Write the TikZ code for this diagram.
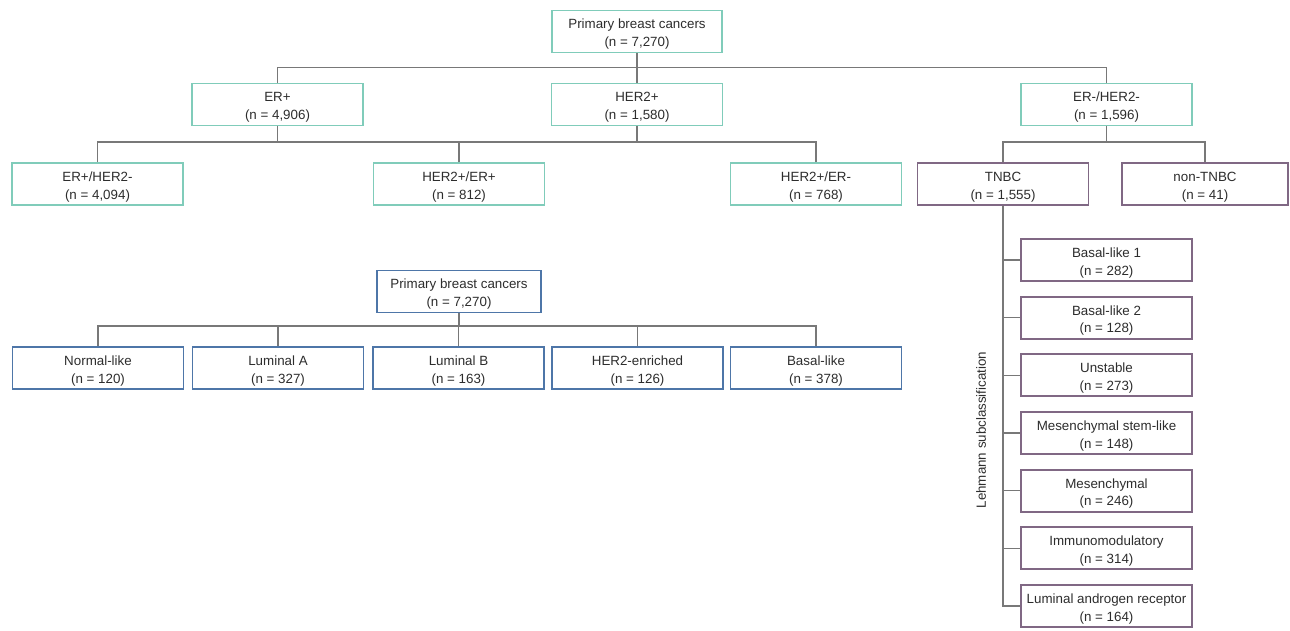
\documentclass[tikz,border=0pt]{standalone}
\usepackage{fontspec}
\setmainfont{Liberation Sans}
\usepackage{xcolor}
\definecolor{tealbox}{RGB}{128,204,186}
\definecolor{plumbox}{RGB}{128,104,132}
\definecolor{bluebox}{RGB}{78,118,168}
\definecolor{linkgray}{RGB}{120,120,120}
\definecolor{txtgray}{RGB}{45,45,45}
\tikzset{
    box/.style={draw, line width=1.1pt, fill=white, align=center, inner sep=0pt,
        minimum width=3.42cm, minimum height=0.84cm, text=txtgray,
        text height=18.8pt,
        font=\fontsize{7.6}{10.1}\selectfont},
    tealnode/.style={box, draw=tealbox},
    plumnode/.style={box, draw=plumbox},
    bluenode/.style={box, draw=bluebox},
    link/.style={draw=linkgray, line width=0.8pt}
}

\begin{document}
\begin{tikzpicture}[x=0.02cm, y=-0.02cm]
            % canvas
            \useasboundingbox (0,0) rectangle (1290,631);

            % receptor status tree
            \node[tealnode, minimum width=3.4cm] (top) at (637, 31.5) {Primary breast cancers\\(n = 7,270)};
            \node[tealnode] (erpos) at (277.5, 104.5) {ER+\\(n = 4,906)};
            \node[tealnode] (herpos) at (637, 104.5) {HER2+\\(n = 1,580)};
            \node[tealnode] (erneg) at (1106.5, 104.5) {ER-/HER2-\\(n = 1,596)};

            \node[tealnode] (erposherneg) at (97.5, 184) {ER+/HER2-\\(n = 4,094)};
            \node[tealnode] (herposerpos) at (459, 184) {HER2+/ER+\\(n = 812)};
            \node[tealnode] (herposerneg) at (816, 184) {HER2+/ER-\\(n = 768)};
            \node[plumnode] (tnbc) at (1003, 184) {TNBC\\(n = 1,555)};
            \node[plumnode, minimum width=3.32cm] (nontnbc) at (1205, 184) {non-TNBC\\(n = 41)};

            % links
            \foreach \u in {erpos, herpos, erneg}
                {
                    \draw[link] (\u.north) -- ++(0,-15) -| (top.south);
                }
            \foreach \u in {erposherneg, herposerpos}
                {
                    \draw[link] (\u.north) -- ++(0,-20) -| (erpos.south);
                }
            \draw[link] (herposerneg.north) -- ++(0,-20) -| (herpos.south);
            \draw[link] (herposerpos.north) -- ++(0,-20) -| (herpos.south);
            \foreach \u in {tnbc, nontnbc}
                {
                    \draw[link] (\u.north) -- ++(0,-20) -| (erneg.south);
                }

            % lehmann subtypes
            \foreach \name/\num [count=\i] in {Basal-like 1/282, Basal-like 2/128, Unstable/273,
                Mesenchymal stem-like/148, Mesenchymal/246, Immunomodulatory/314,
                Luminal androgen receptor/164}
                {
                    \node[plumnode] (leh\i) at (1106.5, {260+57.67*(\i-1)}) {\name\\(n = \num)};
                    \draw[link] (tnbc.south) |- (leh\i.west);
                }
            \node[rotate=90, text=txtgray, font=\fontsize{7.6}{10}\selectfont] (lehlabel) at (981, 430) {Lehmann subclassification};

            % intrinsic subtype tree
            \node[bluenode, minimum width=3.28cm] (pamtop) at (459, 291.5) {Primary breast cancers\\(n = 7,270)};
            \foreach \name/\num/\u [count=\i] in {Normal-like/120/98, Luminal A/327/278, Luminal B/163/458.5,
                HER2-enriched/126/637.5, Basal-like/378/816}
                {
                    \node[bluenode] (pam\i) at (\u, 368) {\name\\(n = \num)};
                    \draw[link] (pam\i.north) -- ++(0,-20) -| (pamtop.south);
                }

        \end{tikzpicture}
\end{document}
